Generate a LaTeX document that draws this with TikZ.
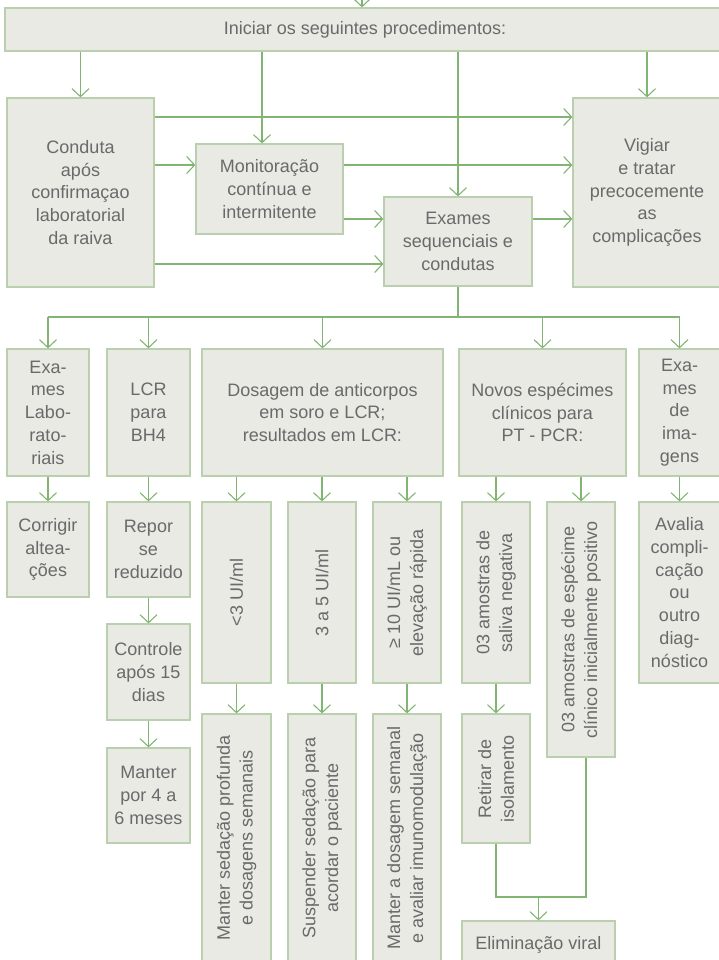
\documentclass[tikz,border=0pt]{standalone}
\usepackage{fontspec}
\setmainfont{Liberation Sans}
\usetikzlibrary{arrows.meta}
\definecolor{boxfill}{HTML}{E8EAE3}
\definecolor{boxline}{HTML}{B9CFAE}
\definecolor{flow}{HTML}{82B574}
\definecolor{ink}{HTML}{6A6A6A}
% box: name, left, top, right, bottom, text
\newcommand\flowbox[6]{%
  \node[box, minimum width={(#4-#2)*1bp}, minimum height={(#5-#3)*1bp}]
    (#1) at ({(#2+#4)/2},{(#3+#5)/2}) {#6};}
\begin{document}
\begin{tikzpicture}[x=1bp,y=-1bp,
  txt/.style={text=ink, font=\fontsize{18bp}{22.8bp}\selectfont, align=center},
  box/.style={txt, draw=boxline, fill=boxfill, line width=1.2bp, inner sep=0pt},
  vtext/.style={txt, rotate=90, inner sep=0pt},
  flowline/.style={draw=flow, line width=1.1bp},
  arr/.style={flowline, -{Straight Barb[length=8bp,width=17bp]}}]
\useasboundingbox (0,0) rectangle (719,960);

% top level
\flowbox{topbox}{5}{8}{725}{51}{Iniciar os seguintes procedimentos:}
\flowbox{conduta}{7}{98}{154}{287}{Conduta\\após\\confirmaçao\\laboratorial\\da raiva}
\flowbox{monit}{196}{144}{343}{234}{Monitoração\\contínua e\\intermitente}
\flowbox{exseq}{384}{197}{532}{286}{Exames\\sequenciais e\\condutas}
\flowbox{vigiar}{573}{98}{721}{287}{Vigiar\\e tratar\\precocemente\\as\\complicações}

% second row
\flowbox{exlab}{7}{349}{89}{476}{Exa-\\mes\\Labo-\\rato-\\riais}
\flowbox{lcr}{107}{349}{190}{476}{LCR\\para\\BH4}
\flowbox{dosag}{202}{349}{443}{476}{Dosagem de anticorpos\\em soro e LCR;\\resultados em LCR:}
\flowbox{novos}{459}{349}{626}{476}{Novos espécimes\\clínicos para\\PT - PCR:}
\flowbox{imag}{639}{349}{720}{476}{Exa-\\mes\\de\\ima-\\gens}

% third row
\flowbox{corrigir}{7}{502}{89}{597}{Corrigir\\altea-\\ções}
\flowbox{repor}{107}{502}{190}{597}{Repor\\se\\reduzido}
\flowbox{lt3}{202}{502}{271}{683}{}
\flowbox{r35}{288}{502}{356}{683}{}
\flowbox{ge10}{373}{502}{441}{683}{}
\flowbox{saliva}{462}{502}{530}{683}{}
\flowbox{especime}{547}{502}{615}{757}{}
\flowbox{avalia}{639}{502}{720}{683}{Avalia\\compli-\\cação\\ou\\outro\\diag-\\nóstico}

% fourth row
\flowbox{controle}{107}{624}{190}{720}{Controle\\após 15\\dias}
\flowbox{manter}{107}{748}{190}{843}{Manter\\por 4 a\\6 meses}
\flowbox{msed}{202}{714}{271}{962}{}
\flowbox{susp}{288}{714}{356}{962}{}
\flowbox{mdos}{373}{714}{441}{962}{}
\flowbox{retirar}{462}{714}{530}{843}{}
\flowbox{elim}{462}{921}{615}{969}{Eliminação viral}

% vertical labels
\node[vtext] at (lt3.center) {<3 UI/ml};
\node[vtext] at (r35.center) {3 a 5 UI/ml};
\node[vtext] at (ge10.center) {≥ 10 UI/mL ou\\elevação rápida};
\node[vtext] at (saliva.center) {03 amostras de\\saliva negativa};
\node[vtext] at (especime.center) {03 amostras de espécime\\clínico inicialmente positivo};
\node[vtext] at (msed.center) {Manter sedação profunda\\e dosagens semanais};
\node[vtext] at (susp.center) {Suspender sedação para\\acordar o paciente};
\node[vtext] at (mdos.center) {Manter a dosagem semanal\\e avaliar imunomodulação};
\node[vtext] at (retirar.center) {Retirar de\\isolamento};

% reference positions for connectors
\coordinate (entry) at (362,-4);
\coordinate (xmon) at (262,0);
\coordinate (xesp) at (586,0);
\coordinate (ya) at (0,117);
\coordinate (yb) at (0,165);
\coordinate (yc) at (0,219);
\coordinate (yd) at (0,264);
\coordinate (ybr) at (0,317);
\coordinate (yjoin) at (0,897);

% connectors of the upper part
\draw[arr] (entry) -- (entry |- topbox.north);
\draw[arr] (conduta.north |- topbox.south) -- (conduta.north);
\draw[arr] (xmon |- topbox.south) -- (xmon |- monit.north);
\draw[arr] (exseq.north |- topbox.south) -- (exseq.north);
\draw[arr] (vigiar.north |- topbox.south) -- (vigiar.north);
\draw[arr] (ya -| conduta.east) -- (ya -| vigiar.west);
\draw[arr] (yb -| conduta.east) -- (yb -| monit.west);
\draw[arr] (yb -| monit.east) -- (yb -| vigiar.west);
\draw[arr] (yc -| monit.east) -- (yc -| exseq.west);
\draw[arr] (yc -| exseq.east) -- (yc -| vigiar.west);
\draw[arr] (yd -| conduta.east) -- (yd -| exseq.west);

% branching to the second row
\draw[flowline] (exseq.south) -- (exseq.south |- ybr);
\draw[flowline] (exlab.north |- ybr) -- (imag.north |- ybr);
\foreach \n in {exlab,lcr,dosag,novos,imag}
  \draw[arr] (\n.north |- ybr) -- (\n.north);

% lower connectors
\draw[arr] (exlab) -- (corrigir);
\draw[arr] (lcr) -- (repor);
\draw[arr] (repor) -- (controle);
\draw[arr] (controle) -- (manter);
\draw[arr] (dosag.south -| lt3.north) -- (lt3.north);
\draw[arr] (dosag.south -| r35.north) -- (r35.north);
\draw[arr] (dosag.south -| ge10.north) -- (ge10.north);
\draw[arr] (novos.south -| saliva.north) -- (saliva.north);
\draw[arr] (novos.south -| especime.north) -- (especime.north);
\draw[arr] (imag) -- (avalia);
\draw[arr] (lt3) -- (msed);
\draw[arr] (r35) -- (susp);
\draw[arr] (ge10) -- (mdos);
\draw[arr] (saliva) -- (retirar);
\draw[flowline] (retirar.south) -- (retirar.south |- yjoin) -- (yjoin -| xesp) -- (xesp |- especime.south);
\draw[arr] (elim.north |- yjoin) -- (elim.north);
\end{tikzpicture}
\end{document}
